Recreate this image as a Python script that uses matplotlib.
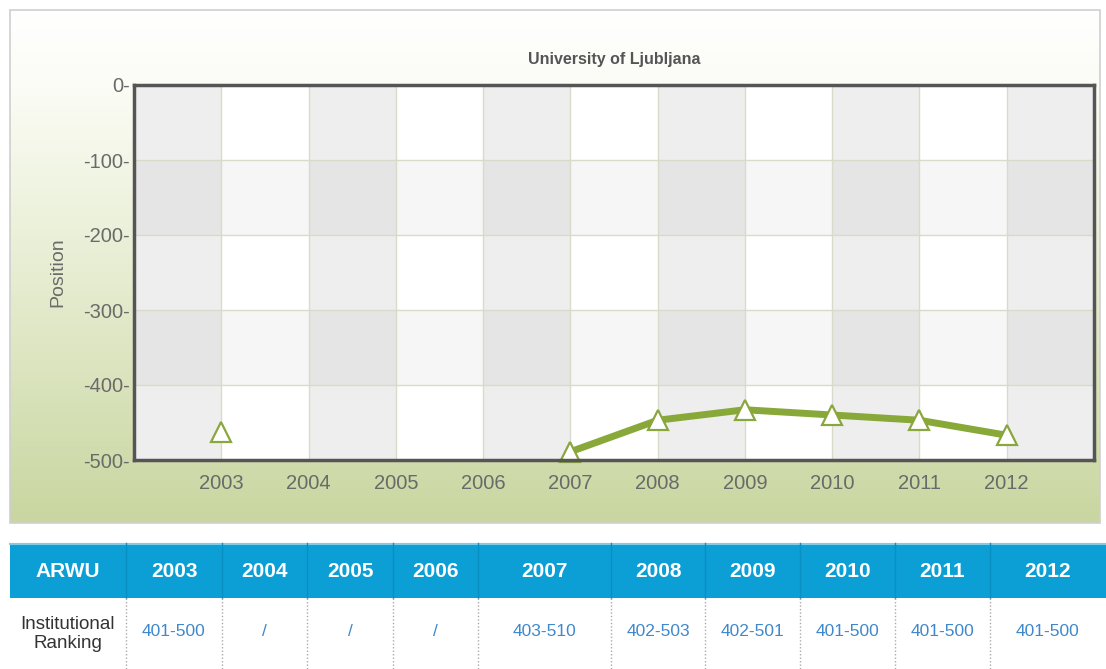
import numpy as np
import matplotlib
matplotlib.use("Agg")
import matplotlib.pyplot as plt
from matplotlib.patches import Rectangle
from matplotlib.colors import LinearSegmentedColormap

plt.rcParams['font.family'] = ['Liberation Sans', 'DejaVu Sans']

# ---- data ----
title = "University of Ljubljana"
years = [2003, 2004, 2005, 2006, 2007, 2008, 2009, 2010, 2011, 2012]
positions = [-463, None, None, None, -489, -447, -433, -440, -447, -467]
ranking_labels = ["401-500", "/", "/", "/", "403-510", "402-503", "402-501",
                  "401-500", "401-500", "401-500"]
y_ticks = [0, -100, -200, -300, -400, -500]
table_header = "ARWU"
row_label = "Institutional\nRanking"

W, H = 1106, 669
fig = plt.figure(figsize=(W / 100, H / 100), dpi=100)

# background pixel axes
bg = fig.add_axes([0, 0, 1, 1])
bg.set_xlim(0, W)
bg.set_ylim(H, 0)
bg.axis('off')

# gradient panel
cmap = LinearSegmentedColormap.from_list(
    "g", [(0, "#ffffff"), (0.15, "#fbfcf5"), (0.45, "#eaf0d8"), (1.0, "#c9d6a0")])
grad = np.linspace(0, 1, 256).reshape(-1, 1)
bg.imshow(grad, cmap=cmap, aspect='auto', extent=[10, 1100, 523, 10], zorder=0)
bg.add_patch(Rectangle((10, 10), 1090, 513, fill=False, edgecolor="#cfcfcf", lw=1.2, zorder=1))

# ---- table ----
col_edges = [10, 126, 222, 307, 393, 478, 611, 705, 800, 895, 990, 1106]
head_top, head_bot, row_bot = 543, 598, 669
bg.add_patch(Rectangle((10, head_top), 1096, head_bot - head_top,
                       facecolor="#0c9fd6", edgecolor="none", zorder=1))
bg.plot([10, 1106], [head_top + 0.5, head_top + 0.5], color="#7fcbe8", lw=1.5, zorder=2)
headers = [table_header] + [str(y) for y in years]
cells = [row_label] + ranking_labels
for i, (h, c) in enumerate(zip(headers, cells)):
    x0, x1 = col_edges[i], col_edges[i + 1]
    xc = (x0 + x1) / 2
    bg.text(xc, (head_top + head_bot) / 2 + 1, h, color="white", fontsize=15,
            fontweight='bold', ha='center', va='center', zorder=3)
    if i == 0:
        bg.text(xc, 634, c, color="#333333", fontsize=13.5, ha='center', va='center',
                linespacing=1.15, zorder=3)
    else:
        bg.text(xc, 631, c, color="#3f88cc", fontsize=12.5, ha='center', va='center', zorder=3)
    if i > 0:
        bg.plot([x0, x0], [head_top, head_bot], color="#0a8fc2", lw=1, zorder=2)
        bg.plot([x0, x0], [head_bot, row_bot], color="#aaaaaa", lw=1,
                linestyle=(0, (1, 1.5)), zorder=2)

# ---- chart axes ----
L, R, T, B = 134, 1094, 85, 460
ax = fig.add_axes([L / W, 1 - B / H, (R - L) / W, (B - T) / H])
ax.set_xlim(2002, 2013)
ax.set_ylim(-500, 0)
ax.set_facecolor("white")

for k in range(2002, 2013, 2):
    ax.axvspan(k, k + 1, facecolor="#eeeeee", edgecolor="none", zorder=0)
for yb in (-200, -400):
    ax.axhspan(yb, yb + 100, facecolor="black", alpha=0.035, edgecolor="none", zorder=0.5)
for y in years:
    ax.axvline(y, color="#dadacb", lw=1, zorder=1)
for v in y_ticks[1:-1]:
    ax.axhline(v, color="#dadacb", lw=1, zorder=1)

xs = np.array(years, dtype=float)
ys = np.array([np.nan if p is None else p for p in positions], dtype=float)
ax.plot(xs, ys, color="#88a83a", lw=5, solid_capstyle='round', zorder=3, clip_on=False)
ax.plot(xs, ys, linestyle='none', marker='^', markersize=15, markerfacecolor="white",
        markeredgecolor="#8aa63e", markeredgewidth=1.6, zorder=4, clip_on=False)

for s in ax.spines.values():
    s.set_color("#555555")
    s.set_linewidth(2.5)
    s.set_zorder(5)

ax.set_xticks(years)
ax.set_xticklabels([str(y) for y in years], fontsize=14.5, color="#6a6a6a")
ax.set_yticks(y_ticks)
ax.set_yticklabels([f"{v}-" for v in y_ticks], fontsize=14.5, color="#6a6a6a")
ax.tick_params(length=0, pad=3)
ax.tick_params(axis='x', pad=10)
ax.set_ylabel("Position", fontsize=14, color="#6a6a6a", labelpad=12)
ax.set_title(title, fontsize=11.5, fontweight='bold', color="#555555", pad=15)

fig.savefig("out.png", dpi=100)
